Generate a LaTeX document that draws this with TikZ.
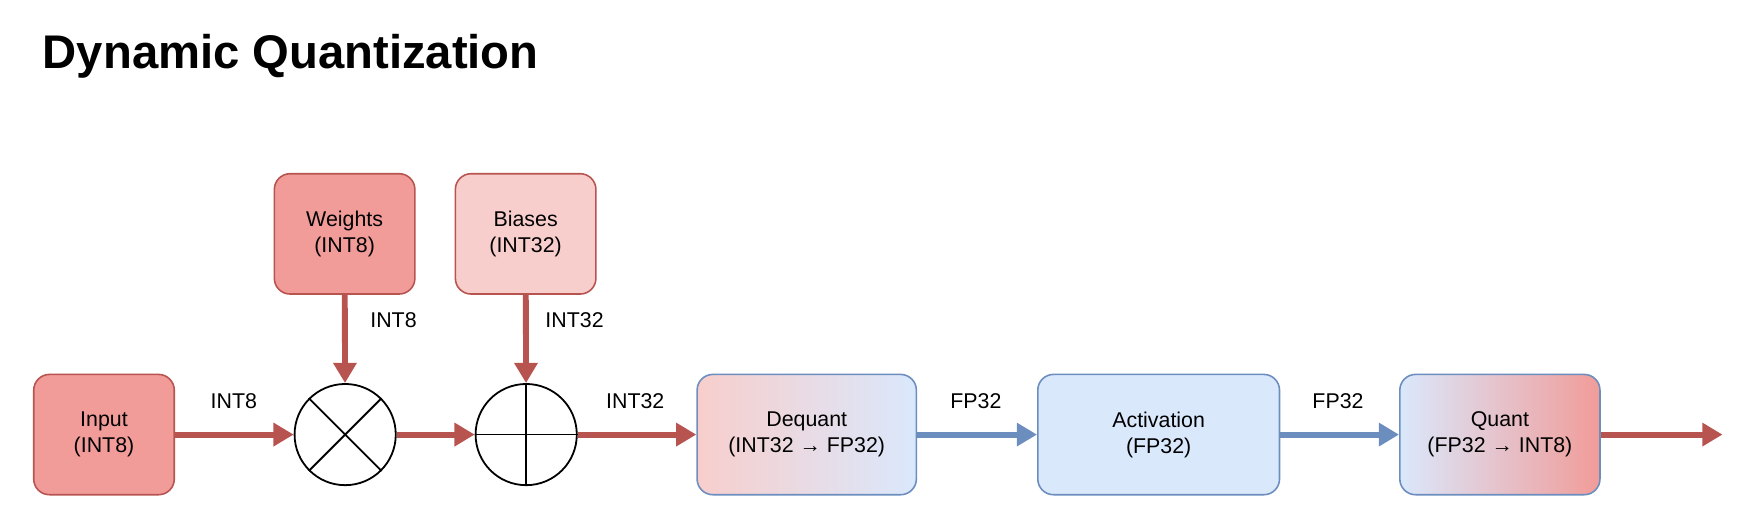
\documentclass[tikz,border=0pt]{standalone}
\usepackage{fontspec}
\setmainfont{Liberation Sans}
\usetikzlibrary{arrows.meta}
\definecolor{rfill}{HTML}{F19C99}
\definecolor{rlight}{HTML}{F8CECC}
\definecolor{rline}{HTML}{B85450}
\definecolor{bfill}{HTML}{DAE8FC}
\definecolor{bline}{HTML}{6C8EBF}
\begin{document}
\begin{tikzpicture}[x=0.5pt,y=-0.5pt,
  box/.style={draw=rline,line width=0.7pt,rounded corners=7pt,minimum width=#1*0.5pt,minimum height=107*0.5pt,align=center,font=\fontsize{9.5}{11.5}\selectfont},
  op/.style={circle,draw=black,line width=0.8pt,minimum size=90*0.5pt,inner sep=0pt},
  rarr/.style={draw=rline,line width=2.6pt,-{Triangle[length=9pt,width=10pt]}},
  barr/.style={draw=bline,line width=2.6pt,-{Triangle[length=9pt,width=10pt]}},
  lab/.style={font=\fontsize{9.5}{11.5}\selectfont}]
\useasboundingbox (0,0) rectangle (1560,468);
\node[anchor=west,font=\fontsize{21}{25}\selectfont\bfseries] (title) at (31,50) {Dynamic Quantization};
\node[box=125,fill=rfill] (in) at (92.5,386.5) {Input\\(INT8)};
\node[box=125,fill=rfill] (w) at (306.5,208) {Weights\\(INT8)};
\node[box=125,fill=rlight] (b) at (467.5,208) {Biases\\(INT32)};
\node[op] (mul) at (307,386.5) {};
\draw[line width=0.8pt] (mul.45)--(mul.225) (mul.135)--(mul.315);
\node[op] (add) at (468,386.5) {};
\draw[line width=0.8pt] (add.north)--(add.south) (add.west)--(add.east);
\node[box=195,draw=bline,left color=rlight,right color=bfill] (dq) at (717.5,386.5) {Dequant\\(INT32 → FP32)};
\node[box=215,draw=bline,fill=bfill] (act) at (1030.5,386.5) {Activation\\(FP32)};
\node[box=178,draw=bline,left color=bfill,right color=rfill] (q) at (1334,386.5) {Quant\\(FP32 → INT8)};
\coordinate (out) at (1532,386.5);
\draw[rarr] (in) -- (mul);
\draw[rarr] (w) -- (mul);
\draw[rarr] (mul) -- (add);
\draw[rarr] (b) -- (add);
\draw[rarr] (add) -- (dq);
\draw[barr] (dq) -- (act);
\draw[barr] (act) -- (q);
\draw[rarr] (q) -- (out);
\node[lab] (l1) at (208,357) {INT8};
\node[lab] (l2) at (350,285) {INT8};
\node[lab] (l3) at (511,285) {INT32};
\node[lab] (l4) at (565,357) {INT32};
\node[lab] (l5) at (868,357) {FP32};
\node[lab] (l6) at (1190,357) {FP32};
\end{tikzpicture}
\end{document}
